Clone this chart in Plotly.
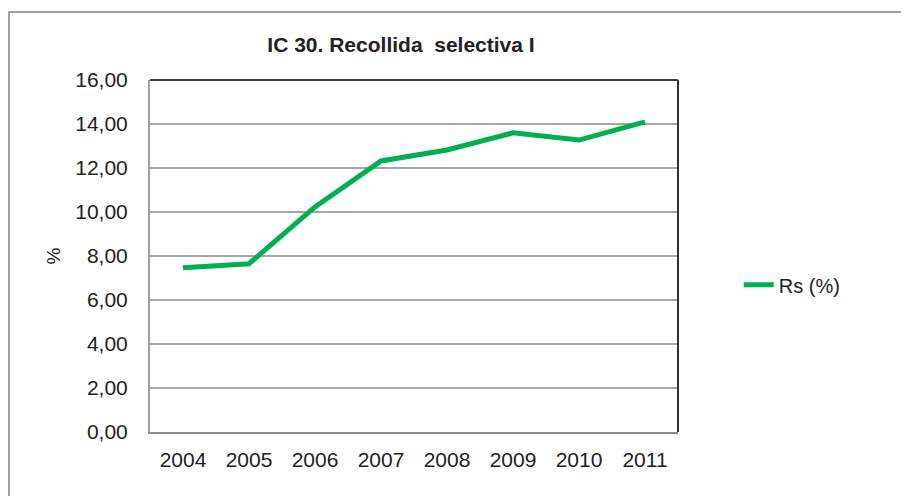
import plotly.graph_objects as go

years = ['2004', '2005', '2006', '2007', '2008', '2009', '2010', '2011']
rs_pct = [7.47, 7.65, 10.23, 12.32, 12.82, 13.60, 13.27, 14.10]
y_ticks = [0, 2, 4, 6, 8, 10, 12, 14, 16]

font = 'Liberation Sans, Arial'

fig = go.Figure()
fig.add_trace(go.Scatter(
    x=years, y=rs_pct,
    mode='lines',
    name='Rs (%)',
    line=dict(color='#00B050', width=5),
))

fig.update_xaxes(
    type='category',
    range=[-0.5, len(years) - 0.5],
    showline=True, linecolor='#8c8c8c', linewidth=2,
    showgrid=False,
    tickfont=dict(family=font, size=21, color='#222'),
    ticklabelstandoff=8,
    ticks='',
)
fig.update_yaxes(
    range=[0, 16],
    tickvals=y_ticks,
    tickformat='.2f',
    showline=True, linecolor='#a0a0a0', linewidth=2,
    showgrid=True, gridcolor='#a6a6a6', gridwidth=1.5,
    zeroline=False,
    tickfont=dict(family=font, size=21, color='#222'),
    ticklabelstandoff=16,
    title=dict(text='%', font=dict(family=font, size=19, color='#222'), standoff=10),
)

# plot area border (top/right darker) and outer chart border
fig.add_shape(type='line', xref='paper', yref='paper', x0=0, x1=1, y0=1, y1=1,
              line=dict(color='#404040', width=2))
fig.add_shape(type='line', xref='paper', yref='paper', x0=1, x1=1, y0=0, y1=1,
              line=dict(color='#303030', width=2))
fig.add_shape(type='rect', xref='paper', yref='paper', x0=-0.267, x1=1.6, y0=-0.5, y1=1.193,
              line=dict(color='#a0a0a0', width=2), layer='below')

# the page body adds an 8px offset, so margins are shifted to compensate
fig.update_layout(
    width=909, height=496,
    separators=',.',
    paper_bgcolor='white', plot_bgcolor='white',
    margin=dict(l=142, r=239, t=72, b=72),
    title=dict(text='<b>IC 30. Recollida  selectiva I</b>', x=393 / 909, xanchor='center',
               y=1 - 37 / 496, yanchor='middle',
               font=dict(family=font, size=21, color='#222')),
    showlegend=True,
    legend=dict(x=1.115, y=0.418, xanchor='left', yanchor='middle',
                font=dict(family=font, size=20, color='#222'),
                bgcolor='rgba(0,0,0,0)'),
)

fig.write_html('out.html')
